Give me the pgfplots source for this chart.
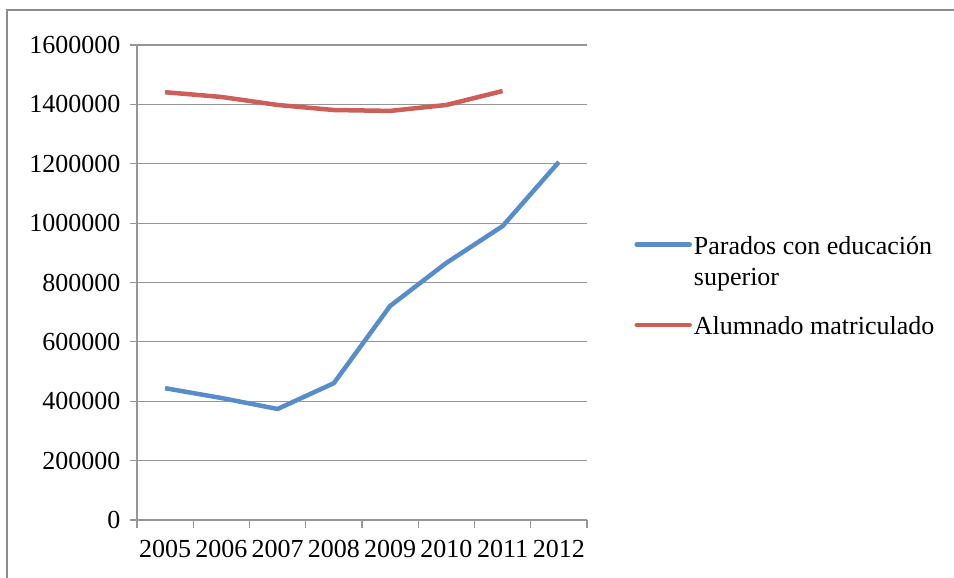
\documentclass[border=0pt]{standalone}
\usepackage{pgfplots}
\pgfplotsset{compat=1.18}
\usepackage{fontspec}
\setmainfont{Liberation Serif}
\definecolor{sblue}{RGB}{88,141,203}
\definecolor{sred}{RGB}{206,94,88}
\definecolor{gridgray}{RGB}{150,150,150}
\definecolor{framegray}{RGB}{140,140,140}
\begin{document}
\begin{tikzpicture}[x=1pt,y=1pt]
\useasboundingbox (0,0) rectangle (954,-578);
\draw[framegray, line width=1.2pt] (7,-600) -- (7,-10) -- (970,-10);
\begin{axis}[
  at={(137pt,-520pt)}, anchor=south west,
  scale only axis, width=450pt, height=475pt,
  xmin=-0.5, xmax=7.5, ymin=0, ymax=1600000,
  axis x line=bottom, axis y line=left,
  axis line style={-, gridgray, line width=1.2pt},
  xtick={0,...,7},
  xticklabels={2005,2006,2007,2008,2009,2010,2011,2012},
  major x tick style={draw=none},
  minor xtick={-0.5,0.5,...,7.5},
  minor x tick style={gridgray, line width=1.2pt},
  minor tick length=8pt,
  major tick length=7pt,
  tick align=outside,
  ytick={0,200000,...,1600000},
  y tick style={gridgray, line width=1.2pt},
  scaled y ticks=false,
  ymajorgrids, grid style={gridgray, line width=1.2pt},
  /pgf/number format/.cd, fixed, 1000 sep={}, assume math mode=true,
  /pgfplots/.cd,
  tick label style={font=\fontsize{26}{30}\selectfont},
  xticklabel style={yshift=-10pt},
  yticklabel style={xshift=-6pt},
  legend style={at={(1.105,0.61)}, anchor=north west, draw=none, fill=none,
    font=\fontsize{26}{30}\selectfont, inner xsep=0pt,
    cells={anchor=base west, text height=20pt, text depth=10pt}, row sep=0pt},
  legend image code/.code={\draw[#1, line cap=round] (0pt,10pt) -- (53pt,10pt);},
]
\addplot[sblue, line width=4.5pt, line join=round] coordinates {
(0,444000) (1,411000) (2,374000) (3,461000) (4,721000) (5,866000) (6,990000) (7,1206000)};
\addlegendentry{Parados con educación}
\addlegendimage{empty legend}
\addlegendentry[text height=26pt, text depth=25pt]{superior}
\addplot[sred, line width=4.5pt, line join=round] coordinates {
(0,1441000) (1,1425000) (2,1398000) (3,1381000) (4,1378000) (5,1398000) (6,1445000)};
\addlegendentry{Alumnado matriculado}
\end{axis}
\end{tikzpicture}
\end{document}
